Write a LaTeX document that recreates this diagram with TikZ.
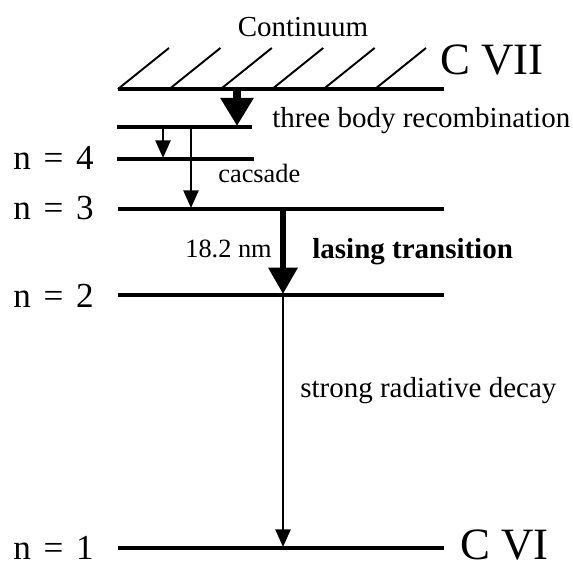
\documentclass[tikz,border=0pt]{standalone}
\usepackage{fontspec}
\setmainfont{Liberation Serif}
\usetikzlibrary{arrows.meta}
\tikzset{
  level/.style={line width=2.2pt},
  hatchline/.style={line width=1.1pt},
  bigarrow/.style={line width=4pt,-{Triangle[width=18pt,length=16pt]}},
  midarrow/.style={line width=3.4pt,-{Triangle[width=16pt,length=15pt]}},
  thinarrow/.style={line width=1.4pt,-{Triangle[width=8.5pt,length=10pt]}},
  lbl/.style={inner sep=0pt,anchor=base west,font=\fontsize{16.5}{18}\selectfont},
  nlbl/.style={inner sep=0pt,anchor=base west,font=\fontsize{20}{22}\selectfont},
  ionlbl/.style={inner sep=0pt,anchor=base west,font=\fontsize{25.5}{28}\selectfont}
}
\newcommand{\nlev}[1]{n\hspace{0.36em}=\hspace{0.36em}#1}
\begin{document}
\begin{tikzpicture}[x=0.02cm,y=-0.02cm]
    \useasboundingbox (0,0) rectangle (573,567);
    % levels
    \coordinate (contL) at (118,89);  \coordinate (contR) at (444,89);
    \coordinate (aL) at (117,127);    \coordinate (aR) at (252,127);
    \coordinate (n4L) at (117,159);   \coordinate (n4R) at (254,159);
    \coordinate (n3L) at (118,209);   \coordinate (n3R) at (444,209);
    \coordinate (n2L) at (118,295);   \coordinate (n2R) at (444,295);
    \coordinate (n1L) at (118,548);   \coordinate (n1R) at (444,548);
    \foreach \a/\b in {contL/contR,aL/aR,n4L/n4R,n3L/n3R,n2L/n2R,n1L/n1R}
      \draw[level] (\a) -- (\b);
    \foreach \i in {0,...,5} \draw[hatchline] (118+51.4*\i,89) -- ++(51,-41);
    % transitions
    \coordinate (rcTop) at (237,88);  \coordinate (rcEnd) at (237,126);
    \coordinate (c1Top) at (163,127); \coordinate (c1End) at (163,158);
    \coordinate (c2Top) at (191,127); \coordinate (c2End) at (191,208);
    \coordinate (lasTop) at (283,209); \coordinate (lasEnd) at (283,294);
    \coordinate (decEnd) at (283,547);
    \draw[bigarrow] (rcTop) -- (rcEnd);
    \draw[thinarrow] (c1Top) -- (c1End);
    \draw[thinarrow] (c2Top) -- (c2End);
    \draw[midarrow] (lasTop) -- (lasEnd);
    \draw[thinarrow] (lasEnd) -- (decEnd);
    % labels
    \node[lbl,anchor=base] (cont) at (303,37) {Continuum};
    \node[ionlbl] (c6) at (460,559) {C VI};
    \node[ionlbl] (c7) at (440,75) {C VII};
    \node[lbl] (recomb) at (272,128) {three body recombination};
    \node[lbl,font=\fontsize{15}{17}\selectfont] (casc) at (218,183) {cacsade};
    \node[lbl,font=\fontsize{15}{17}\selectfont] (wl) at (185,257) {18.2 nm};
    \node[lbl,font=\fontsize{16.5}{18}\selectfont\bfseries] (las) at (312,258) {lasing transition};
    \node[lbl] (dec) at (300,397) {strong radiative decay};
    \node[nlbl] (l4) at (13,170) {\nlev{4}};
    \node[nlbl] (l3) at (13,219) {\nlev{3}};
    \node[nlbl] (l2) at (13,307) {\nlev{2}};
    \node[nlbl] (l1) at (13,559) {\nlev{1}};
  \end{tikzpicture}
\end{document}
